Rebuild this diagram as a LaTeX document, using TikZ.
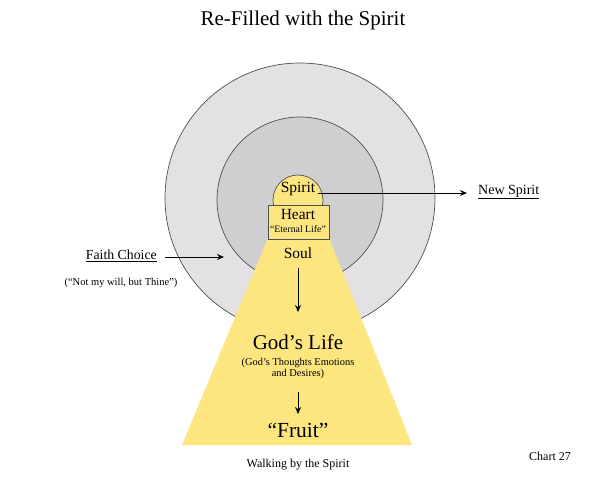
\documentclass[tikz,border=0pt]{standalone}
\usepackage{fontspec}
\setmainfont{Liberation Serif}
\usetikzlibrary{arrows.meta}
\definecolor{yel}{RGB}{253,229,128}
\definecolor{outergray}{RGB}{227,225,227}
\definecolor{innergray}{RGB}{207,207,209}
\definecolor{edge}{RGB}{80,80,80}
\tikzset{
  ring/.style={circle, draw=edge, line width=0.7pt, inner sep=0pt},
  lbl/.style={inner sep=0pt, text=black},
  arr/.style={-{Stealth[length=7pt,width=6pt]}, line width=0.9pt, black},
}
\begin{document}
\begin{tikzpicture}[x=1pt,y=-1pt]
\useasboundingbox[fill=white] (0,0) rectangle (600,480);
% title
\node[lbl, font=\fontsize{21}{24}\selectfont] (title) at (303,20) {Re-Filled with the Spirit};
% circles
\node[ring, fill=outergray, minimum size=270pt] (outer) at (300,198) {};
\node[ring, fill=innergray, minimum size=166pt] (inner) at (300,200) {};
% trapezoid
\fill[yel] (268,238) -- (329,238) -- (412,445) -- (182,445) -- cycle;
% spirit circle and heart box
\node[ring, fill=yel, minimum size=50pt] (spiritc) at (298,200) {};
\node[draw=edge, line width=0.7pt, fill=yel, minimum width=61pt, minimum height=34pt, inner sep=0pt] (heartbox) at (298.5,222) {};
% labels
\node[lbl, font=\fontsize{15.5}{18}\selectfont] (spirit) at (298,189) {Spirit};
\node[lbl, font=\fontsize{15.5}{18}\selectfont] (heart) at (298,214) {Heart};
\node[lbl, font=\fontsize{9.8}{11}\selectfont] (eternal) at (298,229) {“Eternal Life”};
\node[lbl, font=\fontsize{15.5}{18}\selectfont] (soul) at (298,253) {Soul};
\node[lbl, font=\fontsize{21}{24}\selectfont] (godslife) at (298,342) {God’s Life};
\node[lbl, font=\fontsize{10.4}{11}\selectfont, align=center] (thoughts) at (298,368) {(God’s Thoughts Emotions\\and Desires)};
\node[lbl, font=\fontsize{21.5}{24}\selectfont] (fruit) at (298,430) {“Fruit”};
\node[lbl, font=\fontsize{12}{14}\selectfont] (walking) at (298,465) {Walking by the Spirit};
\node[lbl, font=\fontsize{12}{14}\selectfont] (chart) at (550,456) {Chart 27};
\node[lbl, font=\fontsize{14}{16}\selectfont, anchor=west] (newsp) at (478,192) {\underline{New Spirit}};
\node[lbl, font=\fontsize{13.8}{16}\selectfont, anchor=east] (faith) at (157,256) {\underline{Faith Choice}};
\node[lbl, font=\fontsize{10.5}{12}\selectfont] (thine) at (121,283) {(“Not my will, but Thine”)};
% connectors
\coordinate (sstart) at (318,193);
\coordinate (send) at (467,193);
\draw[arr] (sstart) -- (send);
\coordinate (fstart) at (165,257);
\coordinate (fend) at (224,257);
\draw[arr] (fstart) -- (fend);
\draw[arr] (soul.south |- 0,268) -- (godslife.north |- 0,312);
\draw[arr] (thoughts.south |- 0,392) -- (fruit.north |- 0,414);
\end{tikzpicture}
\end{document}
